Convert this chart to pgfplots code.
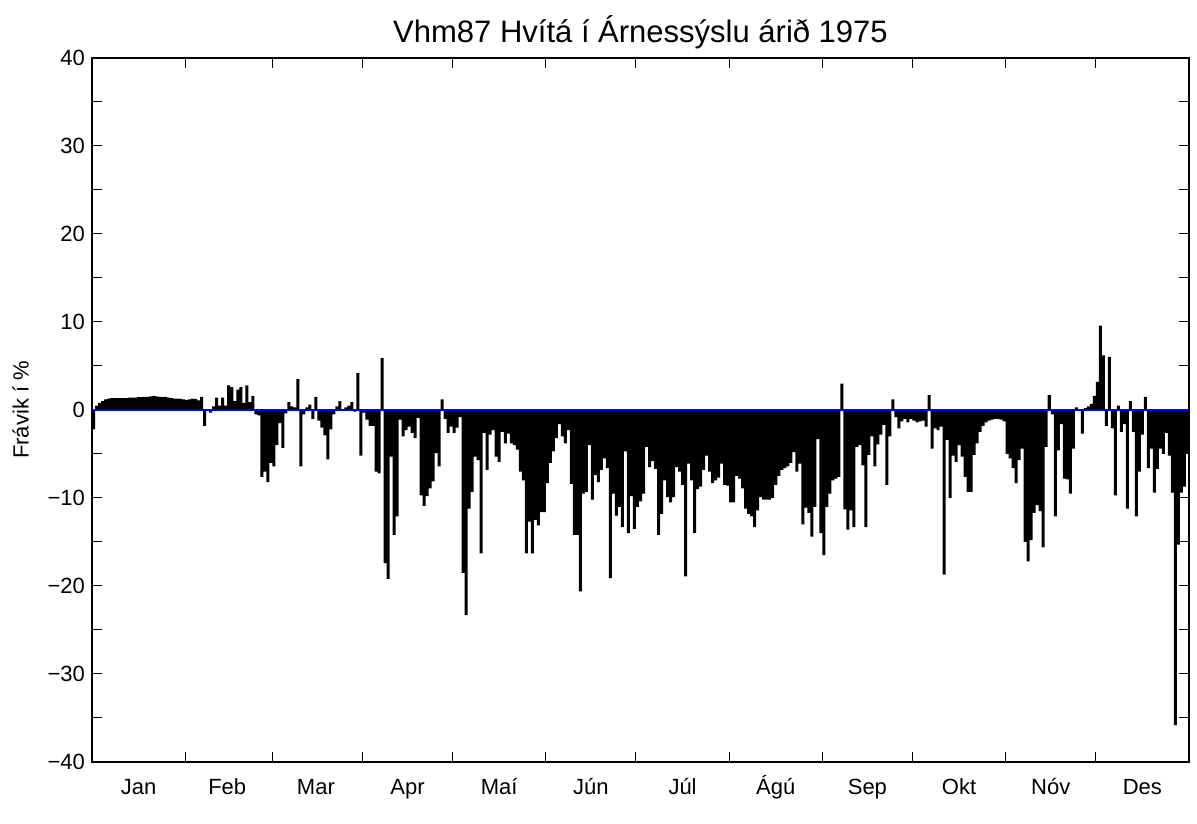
\documentclass[border=0pt]{standalone}
\usepackage{pgfplots}
\pgfplotsset{compat=1.18}
\usepackage{fontspec}
\setmainfont{Liberation Sans}

\begin{document}
\begin{tikzpicture}
	\begin{axis}[
		name=ax,
		scale only axis,
		width=548.5pt, height=352pt,
		xmin=0.5, xmax=365.5,
		ymin=-40, ymax=40,
		axis line style={line width=0.6pt},
		tick align=inside,
		major tick length=5pt,
		minor tick length=5pt,
		tick style={black, line width=0.5pt},
		xtick={31.5,60.5,90.5,120.5,151.5,181.5,212.5,243.5,273.5,304.5,334.5},
		xticklabels={},
		extra x ticks={16,45.5,75,105.5,136,166.5,197,228,258.5,289,319.5,350},
		extra x tick labels={Jan,Feb,Mar,Apr,Maí,Jún,Júl,Ágú,Sep,Okt,Nóv,Des},
		extra x tick style={major tick length=0pt,
			xticklabel style={yshift=-1.5pt, text height=2.1ex, text depth=0.3ex}},
		ytick={-40,-30,-20,-10,0,10,20,30,40},
		yticklabels={−40,−30,−20,−10,0,10,20,30,40},
		minor ytick={-35,-25,-15,-5,5,15,25,35},
		ticklabel style={font=\fontsize{11}{13}\selectfont},
		ylabel={Frávik í \%},
		ylabel style={font=\fontsize{11}{13}\selectfont, yshift=2.5pt},
		title={Vhm87 Hvítá í Árnessýslu árið 1975},
		title style={font=\fontsize{15.5}{18}\selectfont, yshift=-5pt},
	]
	% daily deviation, %
	\addplot[ybar, bar width=1, bar shift=0pt, fill=black, draw=none]
	coordinates {
		% Jan
		(1,-2.2)(2,0.5)(3,0.8)(4,1.0)(5,1.2)(6,1.3)(7,1.35)(8,1.35)(9,1.35)(10,1.35)
		(11,1.35)(12,1.35)(13,1.4)(14,1.4)(15,1.4)(16,1.45)(17,1.45)(18,1.5)(19,1.5)(20,1.55)
		(21,1.6)(22,1.55)(23,1.5)(24,1.45)(25,1.5)(26,1.4)(27,1.35)(28,1.3)(29,1.3)(30,1.25)(31,1.2)
		% Feb
		(32,1.15)(33,1.2)(34,1.3)(35,1.25)(36,1.1)(37,1.5)(38,-1.8)(39,0.1)(40,-0.3)(41,0.4)
		(42,1.4)(43,0.5)(44,1.4)(45,0.5)(46,2.8)(47,2.6)(48,1.0)(49,2.3)(50,2.6)(51,0.8)
		(52,2.8)(53,0.9)(54,1.6)(55,-0.5)(56,-0.6)(57,-7.6)(58,-7.0)(59,-8.2)
		% Mar
		(60,-6.0)(61,-6.4)(62,-4.0)(63,-1.5)(64,-4.3)(65,-0.4)(66,0.9)(67,0.4)(68,0.3)(69,3.5)
		(70,-6.4)(71,-0.5)(72,0.3)(73,0.6)(74,-1.0)(75,1.5)(76,-1.2)(77,-2.0)(78,-2.9)(79,-5.6)
		(80,-2.2)(81,-0.5)(82,0.4)(83,1.0)(84,0.1)(85,0.3)(86,0.5)(87,0.9)(88,-0.2)(89,4.2)(90,-5.2)
		% Apr
		(91,-0.3)(92,-1.1)(93,-1.8)(94,-1.8)(95,-7.0)(96,-7.2)(97,5.9)(98,-17.4)(99,-19.2)(100,-5.3)
		(101,-14.2)(102,-12.1)(103,-1.1)(104,-3.0)(105,-2.3)(106,-1.9)(107,-2.6)(108,-3.2)(109,-0.9)(110,-9.7)
		(111,-10.9)(112,-9.8)(113,-8.9)(114,-8.1)(115,-4.9)(116,-6.4)(117,1.2)(118,-1.0)(119,-2.6)(120,-1.9)
		% May
		(121,-2.6)(122,-2.0)(123,-0.8)(124,-18.5)(125,-23.3)(126,-11.2)(127,-9.3)(128,-5.3)(129,-5.7)(130,-16.3)
		(131,-2.6)(132,-6.8)(133,-2.8)(134,-2.3)(135,-5.3)(136,-5.9)(137,-2.5)(138,-3.8)(139,-2.7)(140,-3.8)
		(141,-4.0)(142,-4.5)(143,-7.0)(144,-8.0)(145,-16.3)(146,-12.7)(147,-16.3)(148,-12.5)(149,-13.1)(150,-11.6)(151,-11.6)
		% Jun
		(152,-8.3)(153,-6.0)(154,-4.7)(155,-3.2)(156,-1.6)(157,-3.0)(158,-3.8)(159,-2.3)(160,-8.4)(161,-14.2)
		(162,-14.2)(163,-20.6)(164,-9.5)(165,-9.3)(166,-4.0)(167,-10.2)(168,-7.4)(169,-8.2)(170,-6.8)(171,-5.5)
		(172,-6.6)(173,-19.1)(174,-9.5)(175,-12.0)(176,-11.0)(177,-13.3)(178,-4.7)(179,-14.0)(180,-9.8)(181,-13.5)
		% Jul
		(182,-11.0)(183,-10.4)(184,-9.5)(185,-4.2)(186,-6.5)(187,-5.8)(188,-6.7)(189,-14.2)(190,-11.8)(191,-8.0)
		(192,-9.9)(193,-10.5)(194,-9.9)(195,-6.5)(196,-7.0)(197,-8.5)(198,-18.9)(199,-6.1)(200,-8.0)(201,-14.0)
		(202,-9.0)(203,-8.7)(204,-6.8)(205,-5.2)(206,-7.0)(207,-8.3)(208,-8.0)(209,-7.7)(210,-6.1)(211,-8.5)(212,-8.6)
		% Aug
		(213,-10.5)(214,-10.5)(215,-7.5)(216,-7.8)(217,-8.9)(218,-11.2)(219,-11.8)(220,-12.1)(221,-13.3)(222,-11.4)
		(223,-9.9)(224,-10.2)(225,-10.2)(226,-10.2)(227,-10.0)(228,-8.5)(229,-7.5)(230,-6.8)(231,-6.6)(232,-6.4)
		(233,-6.0)(234,-4.8)(235,-7.0)(236,-6.1)(237,-13.0)(238,-11.1)(239,-11.7)(240,-14.4)(241,-11.0)(242,-3.3)(243,-14.0)
		% Sep
		(244,-16.5)(245,-11.0)(246,-9.5)(247,-8.0)(248,-7.8)(249,-7.6)(250,3.0)(251,-11.3)(252,-13.6)(253,-11.4)
		(254,-13.3)(255,-4.2)(256,-4.0)(257,-6.3)(258,-13.3)(259,-5.1)(260,-3.0)(261,-6.4)(262,-3.9)(263,-2.8)
		(264,-1.7)(265,-8.5)(266,-3.0)(267,1.2)(268,-0.8)(269,-2.1)(270,-1.3)(271,-1.0)(272,-1.4)(273,-1.0)
		% Oct
		(274,-1.2)(275,-1.4)(276,-1.3)(277,-1.2)(278,-1.9)(279,1.7)(280,-4.4)(281,-2.1)(282,-2.3)(283,-1.9)
		(284,-18.7)(285,-3.4)(286,-10.0)(287,-5.2)(288,-5.9)(289,-4.0)(290,-5.3)(291,-7.6)(292,-9.3)(293,-9.3)
		(294,-5.1)(295,-3.8)(296,-2.5)(297,-1.8)(298,-1.4)(299,-1.2)(300,-1.1)(301,-1.0)(302,-1.0)(303,-1.1)(304,-1.3)
		% Nov
		(305,-5.0)(306,-5.5)(307,-6.6)(308,-8.3)(309,-5.7)(310,-4.4)(311,-15.0)(312,-17.2)(313,-14.8)(314,-11.7)
		(315,-10.8)(316,-11.5)(317,-15.6)(318,-4.2)(319,1.7)(320,-0.5)(321,-12.1)(322,-4.6)(323,-1.6)(324,-7.8)
		(325,-7.9)(326,-9.5)(327,-4.4)(328,0.3)(329,-0.1)(330,-2.7)(331,0.2)(332,0.4)(333,0.7)(334,1.6)
		% Dec
		(335,3.2)(336,9.6)(337,6.2)(338,-1.8)(339,6.0)(340,-2.1)(341,-9.7)(342,0.5)(343,-2.5)(344,-1.6)
		(345,-11.2)(346,1.0)(347,-2.5)(348,-12.1)(349,-7.0)(350,-2.8)(351,1.5)(352,-6.6)(353,-4.4)(354,-9.4)
		(355,-6.7)(356,-4.4)(357,-5.0)(358,-2.6)(359,-5.2)(360,-9.4)(361,-35.8)(362,-15.3)(363,-9.4)(364,-8.7)(365,-5.0)
	};
	% zero line
	\addplot[blue, line width=1.3pt] coordinates {(0.5,0)(365.5,0)};
	\end{axis}
	% page margins as in the reference
	\path ([shift={(-46pt,-31pt)}]ax.south west) rectangle ([shift={(4pt,29pt)}]ax.north east);
\end{tikzpicture}
\end{document}
